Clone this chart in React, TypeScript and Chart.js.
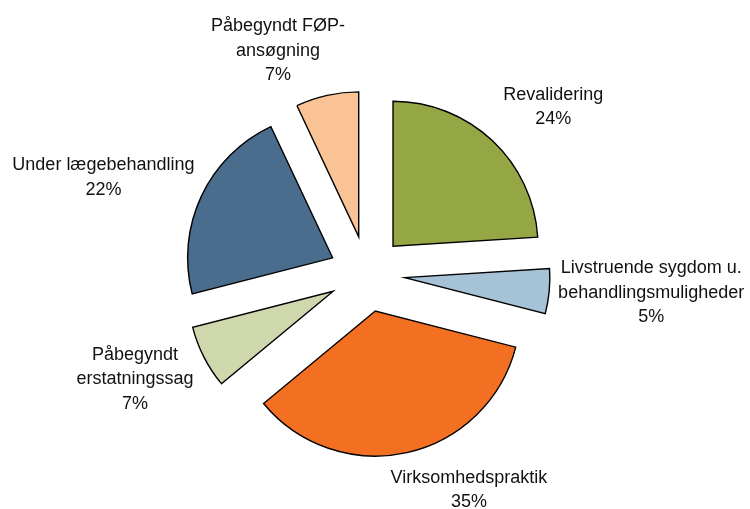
import React, { useEffect, useRef } from "react";
import { Chart, registerables } from "chart.js";

Chart.register(...registerables);

// Categories (each entry holds the label's text lines)
const categories: string[][] = [
  ["Revalidering"],
  ["Livstruende sygdom u.", "behandlingsmuligheder"],
  ["Virksomhedspraktik"],
  ["Påbegyndt", "erstatningssag"],
  ["Under lægebehandling"],
  ["Påbegyndt FØP-", "ansøgning"],
];

// Series values (percent)
const shares: number[] = [24, 5, 35, 7, 22, 7];

// Slice colours
const sliceColors: string[] = [
  "#95A644",
  "#A6C2D6",
  "#F37022",
  "#CFD8AD",
  "#4A6D8E",
  "#FAC396",
];

// Label nudges relative to the mid-angle point on each exploded slice's rim
const labelNudges: [number, number][] = [
  [61, -35],
  [102, 0],
  [62, 36],
  [-69, 21],
  [-98, -20],
  [-49, -46],
];

const EXPLODE = 38;
const LINE_H = 24.5;
const FONT = '18px "Liberation Sans", Arial, sans-serif';

const explodePlugin = {
  id: "explodeSlices",
  beforeDatasetDraw(chart: any, args: any) {
    const ctx = chart.ctx;
    args.meta.data.forEach((arc: any) => {
      const mid = (arc.startAngle + arc.endAngle) / 2;
      ctx.save();
      ctx.translate(Math.cos(mid) * EXPLODE, Math.sin(mid) * EXPLODE);
      arc.draw(ctx);
      ctx.restore();
    });
    return false;
  },
  afterDatasetsDraw(chart: any) {
    const ctx = chart.ctx;
    const meta = chart.getDatasetMeta(0);
    const values = chart.data.datasets[0].data as number[];
    ctx.save();
    ctx.font = FONT;
    ctx.fillStyle = "#111";
    ctx.textAlign = "center";
    ctx.textBaseline = "alphabetic";
    meta.data.forEach((arc: any, i: number) => {
      const mid = (arc.startAngle + arc.endAngle) / 2;
      const r = arc.outerRadius + EXPLODE;
      const px = arc.x + Math.cos(mid) * r + labelNudges[i][0];
      const py = arc.y + Math.sin(mid) * r + labelNudges[i][1];
      const lines = [...categories[i], `${values[i]}%`];
      const n = lines.length;
      lines.forEach((t, k) => {
        const y = py + (k - (n - 1) / 2) * LINE_H + 6.4;
        ctx.fillText(t, px, y);
      });
    });
    ctx.restore();
  },
};

export default function App() {
  const canvasRef = useRef<HTMLCanvasElement | null>(null);

  useEffect(() => {
    if (!canvasRef.current) return;
    const chart = new Chart(canvasRef.current, {
      type: "pie",
      data: {
        labels: categories.map((c) => c.join(" ")),
        datasets: [
          {
            data: shares,
            backgroundColor: sliceColors,
            borderColor: "#000",
            borderWidth: 1.4,
            borderJoinStyle: "miter",
          } as any,
        ],
      },
      options: {
        responsive: false,
        animation: false,
        radius: 145,
        layout: { padding: { left: 0, right: 16, top: 39, bottom: 0 } },
        plugins: {
          legend: { display: false },
          tooltip: { enabled: false },
        },
      } as any,
      plugins: [explodePlugin],
    });
    return () => chart.destroy();
  }, []);

  return (
    <div style={{ position: "fixed", left: 0, top: 0, width: 750, height: 509, background: "#fff" }}>
      <canvas ref={canvasRef} width={750} height={509} style={{ display: "block" }} />
    </div>
  );
}
